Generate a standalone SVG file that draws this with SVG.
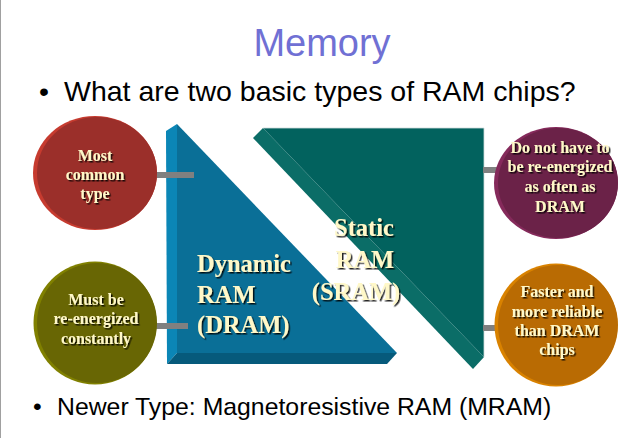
<svg xmlns="http://www.w3.org/2000/svg" width="640" height="438" viewBox="0 0 640 438">
<defs>
<filter id="sh" x="-10%" y="-10%" width="130%" height="140%">
<feDropShadow dx="1.5" dy="1.5" stdDeviation="0.4" flood-color="#000" flood-opacity="0.85"/>
</filter>
</defs>
<style>
.ctext{font-family:"Liberation Serif","Times New Roman",serif;font-weight:bold;font-size:16px;fill:#fff8c8;text-anchor:middle;filter:url(#sh)}
.btext{font-family:"Liberation Serif","Times New Roman",serif;font-weight:bold;font-size:24.5px;fill:#fff8c8;filter:url(#sh)}
.bar{fill:#808080}
.sans{font-family:"Liberation Sans",Arial,sans-serif;fill:#000}
</style>
<rect x="0" y="0" width="640" height="438" fill="#fff"/>
<line x1="0.5" y1="0" x2="0.5" y2="438" stroke="#a0a0a0" stroke-width="1"/>
<text x="322" y="56" text-anchor="middle" font-family="Liberation Sans, Arial, sans-serif" font-size="38" fill="#7070d4">Memory</text>
<text class="sans" x="39" y="101" font-size="28.5">•</text>
<text class="sans" x="64" y="101" font-size="28.5">What are two basic types of RAM chips?</text>
<text class="sans" x="33" y="415" font-size="24.8">•</text>
<text class="sans" x="57" y="415" font-size="24.8">Newer Type: Magnetoresistive RAM (MRAM)</text>

<g id="dram">
<polygon points="166,131 177,124 177,353 167,364" fill="#0b86b6"/>
<polygon points="177,124 397,353 177,353" fill="#0a6f97"/>
<polygon points="177,353 397,353 387,364 167,364" fill="#065a7b"/>
<text class="btext" x="197" y="272">Dynamic</text>
<text class="btext" x="197" y="303">RAM</text>
<text class="btext" x="197" y="333">(DRAM)</text>
</g>
<g id="sram">
<polygon points="253,138 263,128 484,357 473,369" fill="#0b6d67"/>
<polygon points="263,128 484,128 484,357" fill="#02625e"/>
<polyline points="263,128 484,128 484,357" fill="none" stroke="#cfdcdc" stroke-width="0.8"/>
<text class="btext" x="364" y="236" text-anchor="middle">Static</text>
<text class="btext" x="365" y="268" text-anchor="middle">RAM</text>
<text class="btext" x="356" y="300" text-anchor="middle">(SRAM)</text>
</g>

<g id="connectors">
<rect class="bar" x="150" y="172" width="44" height="6"/>
<rect class="bar" x="150" y="323" width="38" height="6"/>
<rect class="bar" x="483" y="167" width="18" height="6"/>
<rect class="bar" x="483" y="325" width="18" height="6"/>
</g>

<g id="n-common">
<ellipse cx="95" cy="173" rx="62" ry="57" fill="#c63b2f"/>
<ellipse cx="97" cy="173" rx="60" ry="56" fill="#9b2f2a"/>
<text class="ctext" x="95" y="161">Most</text>
<text class="ctext" x="95" y="180">common</text>
<text class="ctext" x="95" y="199">type</text>
</g>
<g id="n-reenergize">
<circle cx="95" cy="323" r="61.5" fill="#808000"/>
<circle cx="97" cy="323" r="60" fill="#686604"/>
<text class="ctext" x="96" y="305">Must be</text>
<text class="ctext" x="96" y="324">re-energized</text>
<text class="ctext" x="96" y="344">constantly</text>
</g>
<g id="n-notoften">
<ellipse cx="556" cy="183" rx="62" ry="56" fill="#852a5b"/>
<ellipse cx="558" cy="183" rx="60" ry="55" fill="#6b2248"/>
<text class="ctext" x="560" y="153">Do not have to</text>
<text class="ctext" x="560" y="172">be re-energized</text>
<text class="ctext" x="560" y="192">as often as</text>
<text class="ctext" x="560" y="212">DRAM</text>
</g>
<g id="n-faster">
<circle cx="556" cy="325" r="61.5" fill="#d98200"/>
<circle cx="558" cy="325" r="60" fill="#b96b03"/>
<text class="ctext" x="557" y="297">Faster and</text>
<text class="ctext" x="557" y="317">more reliable</text>
<text class="ctext" x="557" y="336">than DRAM</text>
<text class="ctext" x="557" y="355">chips</text>
</g>
</svg>
